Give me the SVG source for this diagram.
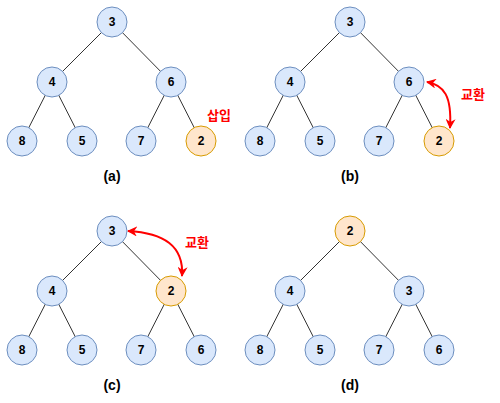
<svg xmlns="http://www.w3.org/2000/svg" width="500" height="403" viewBox="0 0 500 403">
<style>
.n circle{stroke-width:1}
.b circle{fill:#dae8fc;stroke:#6c8ebf}
.o circle{fill:#ffe6cc;stroke:#d79b00}
.n text{font-family:"Liberation Sans",Arial,sans-serif;font-weight:bold;font-size:12px;fill:#000;text-anchor:middle;dominant-baseline:central}
.e line{stroke:#333;stroke-width:1}
.cap{font-family:"Liberation Sans",Arial,sans-serif;font-weight:bold;font-size:14px;fill:#000;text-anchor:middle}
.red{font-family:"Liberation Sans","Noto Sans CJK KR",sans-serif;font-weight:bold;font-size:13px;fill:#ff0000;text-anchor:middle}
.arr{fill:none;stroke:#ff0000;stroke-width:2;marker-start:url(#ah);marker-end:url(#ah)}
</style>
<defs>
<marker id="ah" viewBox="0 0 10 10" refX="9" refY="5" markerWidth="5" markerHeight="5" orient="auto-start-reverse" markerUnits="strokeWidth">
<path d="M0,0 L10,5 L0,10 L3,5 Z" fill="#ff0000"/>
</marker>
</defs>
<g id="connectors" class="e">
<line x1="112" y1="22" x2="52" y2="82"/><line x1="112" y1="22" x2="171" y2="82"/>
<line x1="52" y1="82" x2="22" y2="141"/><line x1="52" y1="82" x2="82" y2="141"/>
<line x1="171" y1="82" x2="141" y2="141"/><line x1="171" y1="82" x2="201" y2="141"/>
<line x1="350" y1="22" x2="290" y2="82"/><line x1="350" y1="22" x2="409" y2="82"/>
<line x1="290" y1="82" x2="260" y2="141"/><line x1="290" y1="82" x2="320" y2="141"/>
<line x1="409" y1="82" x2="379" y2="141"/><line x1="409" y1="82" x2="439" y2="141"/>
<line x1="112" y1="231" x2="52" y2="291"/><line x1="112" y1="231" x2="171" y2="291"/>
<line x1="52" y1="291" x2="22" y2="350"/><line x1="52" y1="291" x2="82" y2="350"/>
<line x1="171" y1="291" x2="141" y2="350"/><line x1="171" y1="291" x2="201" y2="350"/>
<line x1="350" y1="231" x2="290" y2="291"/><line x1="350" y1="231" x2="409" y2="291"/>
<line x1="290" y1="291" x2="260" y2="350"/><line x1="290" y1="291" x2="320" y2="350"/>
<line x1="409" y1="291" x2="379" y2="350"/><line x1="409" y1="291" x2="439" y2="350"/>
</g>
<g id="swaps">
<path class="arr" d="M427,82 C444,85 452,96 450,128"/>
<path class="arr" d="M128,231 C164,233 184,246 182,276"/>
</g>
<g id="a-3" class="n b"><circle cx="112" cy="22" r="15"/><text x="112" y="22">3</text></g>
<g id="a-4" class="n b"><circle cx="52" cy="82" r="15"/><text x="52" y="82">4</text></g>
<g id="a-6" class="n b"><circle cx="171" cy="82" r="15"/><text x="171" y="82">6</text></g>
<g id="a-8" class="n b"><circle cx="22" cy="141" r="15"/><text x="22" y="141">8</text></g>
<g id="a-5" class="n b"><circle cx="82" cy="141" r="15"/><text x="82" y="141">5</text></g>
<g id="a-7" class="n b"><circle cx="141" cy="141" r="15"/><text x="141" y="141">7</text></g>
<g id="a-2" class="n o"><circle cx="201" cy="141" r="15"/><text x="201" y="141">2</text></g>
<g id="b-3" class="n b"><circle cx="350" cy="22" r="15"/><text x="350" y="22">3</text></g>
<g id="b-4" class="n b"><circle cx="290" cy="82" r="15"/><text x="290" y="82">4</text></g>
<g id="b-6" class="n b"><circle cx="409" cy="82" r="15"/><text x="409" y="82">6</text></g>
<g id="b-8" class="n b"><circle cx="260" cy="141" r="15"/><text x="260" y="141">8</text></g>
<g id="b-5" class="n b"><circle cx="320" cy="141" r="15"/><text x="320" y="141">5</text></g>
<g id="b-7" class="n b"><circle cx="379" cy="141" r="15"/><text x="379" y="141">7</text></g>
<g id="b-2" class="n o"><circle cx="439" cy="141" r="15"/><text x="439" y="141">2</text></g>
<g id="c-3" class="n b"><circle cx="112" cy="231" r="15"/><text x="112" y="231">3</text></g>
<g id="c-4" class="n b"><circle cx="52" cy="291" r="15"/><text x="52" y="291">4</text></g>
<g id="c-2" class="n o"><circle cx="171" cy="291" r="15"/><text x="171" y="291">2</text></g>
<g id="c-8" class="n b"><circle cx="22" cy="350" r="15"/><text x="22" y="350">8</text></g>
<g id="c-5" class="n b"><circle cx="82" cy="350" r="15"/><text x="82" y="350">5</text></g>
<g id="c-7" class="n b"><circle cx="141" cy="350" r="15"/><text x="141" y="350">7</text></g>
<g id="c-6" class="n b"><circle cx="201" cy="350" r="15"/><text x="201" y="350">6</text></g>
<g id="d-2" class="n o"><circle cx="350" cy="231" r="15"/><text x="350" y="231">2</text></g>
<g id="d-4" class="n b"><circle cx="290" cy="291" r="15"/><text x="290" y="291">4</text></g>
<g id="d-3" class="n b"><circle cx="409" cy="291" r="15"/><text x="409" y="291">3</text></g>
<g id="d-8" class="n b"><circle cx="260" cy="350" r="15"/><text x="260" y="350">8</text></g>
<g id="d-5" class="n b"><circle cx="320" cy="350" r="15"/><text x="320" y="350">5</text></g>
<g id="d-7" class="n b"><circle cx="379" cy="350" r="15"/><text x="379" y="350">7</text></g>
<g id="d-6" class="n b"><circle cx="439" cy="350" r="15"/><text x="439" y="350">6</text></g>
<g id="labels">
<text class="red" x="219" y="120">삽입</text>
<text class="red" x="473" y="99">교환</text>
<text class="red" x="197" y="247">교환</text>
<text class="cap" x="112" y="181">(a)</text>
<text class="cap" x="350" y="181">(b)</text>
<text class="cap" x="112" y="390">(c)</text>
<text class="cap" x="350" y="390">(d)</text>
</g>
</svg>
